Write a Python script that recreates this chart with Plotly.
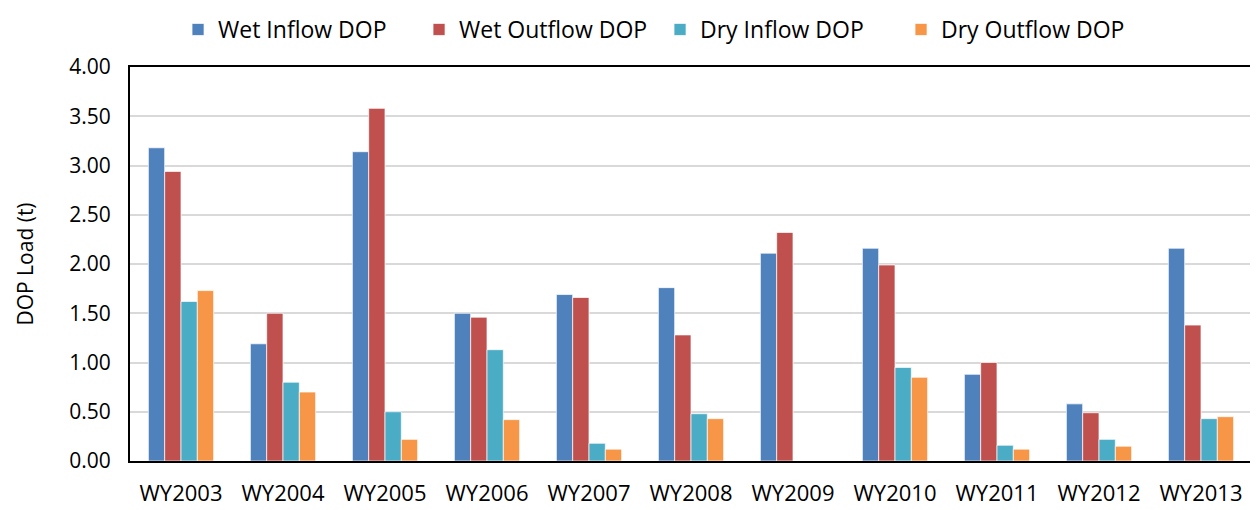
import plotly.graph_objects as go

YEARS = ["WY2003", "WY2004", "WY2005", "WY2006", "WY2007", "WY2008",
         "WY2009", "WY2010", "WY2011", "WY2012", "WY2013"]

wet_inflow = [3.18, 1.19, 3.14, 1.50, 1.69, 1.76, 2.11, 2.16, 0.88, 0.58, 2.16]
wet_outflow = [2.94, 1.50, 3.58, 1.46, 1.66, 1.28, 2.32, 1.99, 1.00, 0.49, 1.38]
dry_inflow = [1.62, 0.80, 0.50, 1.13, 0.18, 0.48, None, 0.95, 0.16, 0.22, 0.43]
dry_outflow = [1.73, 0.70, 0.22, 0.42, 0.12, 0.43, None, 0.85, 0.12, 0.15, 0.45]

SERIES = [
    ("Wet Inflow DOP", wet_inflow, "#4F81BD"),
    ("Wet Outflow DOP", wet_outflow, "#C0504D"),
    ("Dry Inflow DOP", dry_inflow, "#4BACC6"),
    ("Dry Outflow DOP", dry_outflow, "#F79646"),
]

FONT = "Open Sans, Arial, sans-serif"

fig = go.Figure()
for name, vals, colour in SERIES:
    fig.add_trace(
        go.Bar(
            x=YEARS,
            y=vals,
            name=name,
            marker=dict(color=colour, line=dict(color="rgba(255,255,255,0.7)", width=1)),
        )
    )

# page body has an 8px default margin, so the figure is a bit smaller
fig.update_layout(
    width=1250,
    height=502,
    barmode="group",
    bargap=0.36,
    bargroupgap=0,
    paper_bgcolor="white",
    plot_bgcolor="white",
    font=dict(family=FONT, size=21, color="#000000"),
    margin=dict(l=122, r=6, t=59, b=49, autoexpand=False),
    legend=dict(
        orientation="h",
        x=0.4724,
        xanchor="center",
        y=1.1497,
        yanchor="top",
        font=dict(size=23),
        itemwidth=30,
        entrywidth=196,
        traceorder="normal",
    ),
    xaxis=dict(
        showline=True,
        linecolor="black",
        linewidth=2,
        mirror=True,
        ticks="",
        ticklabelstandoff=12,
        tickfont=dict(size=22),
    ),
    yaxis=dict(
        title=dict(text="DOP Load (t)", font=dict(size=21), standoff=30),
        range=[0, 4],
        dtick=0.5,
        tickformat=".2f",
        showgrid=True,
        gridcolor="#D9D9D9",
        gridwidth=2,
        showline=True,
        linecolor="black",
        linewidth=2,
        mirror=True,
        ticks="",
        ticklabelstandoff=13,
        tickfont=dict(size=21),
        zeroline=False,
    ),
)

fig.write_html("out.html")
